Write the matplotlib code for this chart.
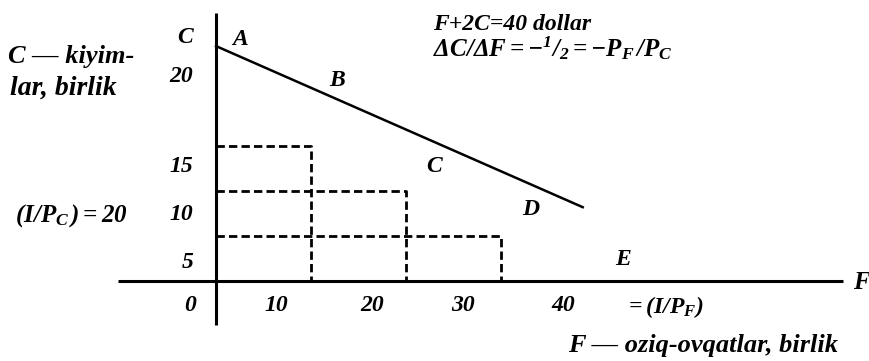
import matplotlib
matplotlib.use("Agg")
import matplotlib.pyplot as plt

# budget line F + 2C = 40 (drawn schematically as in the book)
line_F = [0, 38.6]
line_C = [26.1, 8.2]

# dashed bundles
rect_F = [10, 20, 30]
rect_C = [15, 10, 5]

# point labels on the line
point_names = ["A", "B", "C", "D", "E"]
point_F = [2.5, 12.7, 22.9, 33.1, 42.8]
point_C = [26.8, 22.3, 12.7, 7.9, 2.4]

# tick labels (hand placed in the book)
xtick_labels = ["0", "10", "20", "30", "40"]
xtick_F = [-2.7, 6.3, 16.4, 26.0, 36.5]
ytick_labels = ["C", "20", "15", "10", "5"]
ytick_C = [27.1, 22.7, 12.7, 7.4, 2.1]

plt.rcParams["mathtext.fontset"] = "custom"
plt.rcParams["mathtext.rm"] = "Liberation Serif:bold:italic"
plt.rcParams["mathtext.it"] = "Liberation Serif:bold:italic"
plt.rcParams["mathtext.bf"] = "Liberation Serif:bold:italic"
plt.rcParams["mathtext.default"] = "it"

font = dict(family="Liberation Serif", weight="bold", style="italic")

fig = plt.figure(figsize=(8.7, 3.61), dpi=100)
ax = fig.add_axes([0, 0, 1, 1])
ax.set_xlim(-22.74, 68.84)
ax.set_ylim(-8.89, 31.22)
ax.axis("off")

# axes
ax.plot([0, 0], [-4.9, 29.8], color="black", lw=2.2, solid_capstyle="butt")
ax.plot([-10.3, 66.0], [0, 0], color="black", lw=2.2, solid_capstyle="butt")

# budget line
ax.plot(line_F, line_C, color="black", lw=1.8)

# dashed rectangles
for f, c in zip(rect_F, rect_C):
    ax.plot([0, f, f], [c, c, 0], color="black", lw=2.0, linestyle=(0, (3.0, 1.5)))

for name, f, c in zip(point_names, point_F, point_C):
    ax.text(f, c, name, ha="center", va="center", size=17, **font)

for lab, f in zip(xtick_labels, xtick_F):
    ax.text(f, -2.7, lab, ha="center", va="center", size=17, **font)
for lab, c in zip(ytick_labels, ytick_C):
    ax.text(-2.4, c, lab, ha="right", va="center", size=17, **font)

ax.text(67.9, -0.2, "F", ha="center", va="center", size=18, **font)

ax.text(22.84, 27.9, "F+2C=40 dollar", ha="left", va="baseline", size=17, **font)
ax.text(22.84, 25.0, r"$\Delta C/\Delta F=-{}^{1}/_{2}=-P_{F}\,/P_{C}$",
        ha="left", va="baseline", size=18, **font)

ax.text(-21.9, 24.2, "C — kiyim-", ha="left", va="baseline", size=19, **font)
ax.text(-21.7, 20.7, "lar, birlik", ha="left", va="baseline", size=20, **font)
ax.text(-21.2, 6.6, r"$(I/P_{C}\,)=20$", ha="left", va="baseline", size=18, **font)
ax.text(43.05, -3.6, r"$=(I/P_{F})$", ha="left", va="baseline", size=17, **font)
ax.text(37.05, -7.9, "F — oziq-ovqatlar, birlik", ha="left", va="baseline", size=19, **font)

fig.savefig("out.png", dpi=100)
